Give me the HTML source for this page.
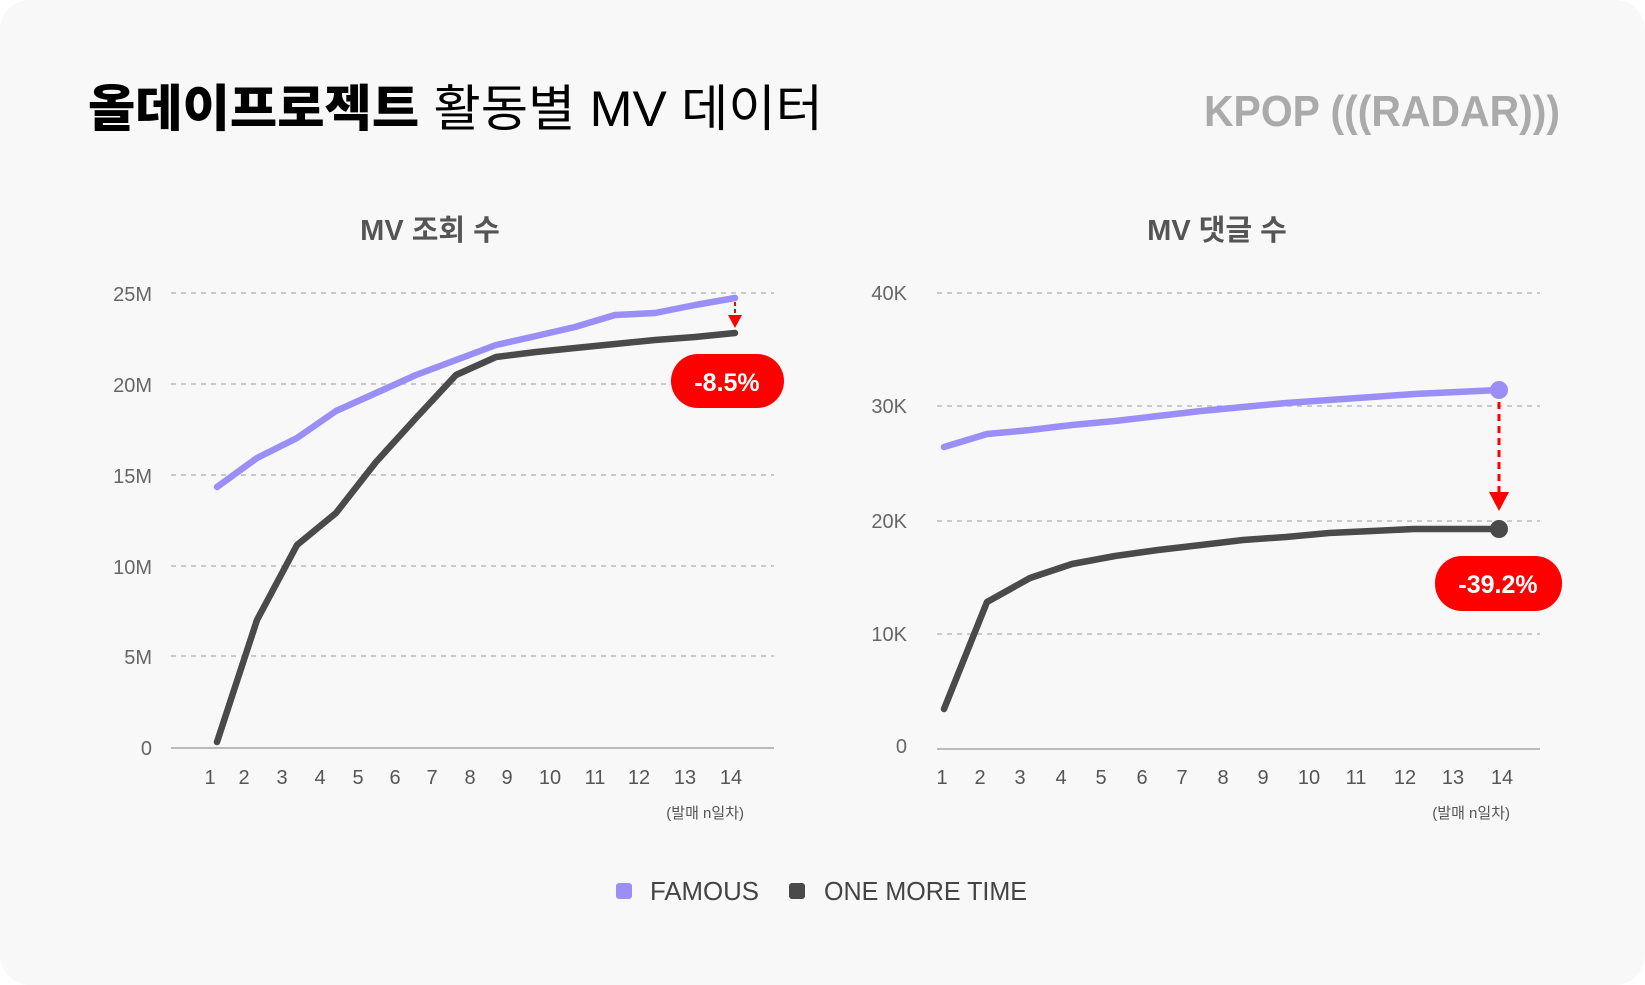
<!DOCTYPE html><html><head><meta charset="utf-8"><style>
body{margin:0;background:#fff;}
svg{display:block;font-family:"Liberation Sans","Noto Sans CJK KR",sans-serif;}
</style></head><body>
<svg width="1645" height="985" viewBox="0 0 1645 985">
<rect x="0" y="0" width="1645" height="985" rx="30" fill="#f8f8f8"/>
<text x="88" y="126" font-size="50" font-weight="bold" fill="#000" textLength="735" lengthAdjust="spacingAndGlyphs"><tspan font-weight="900">올데이프로젝트</tspan><tspan font-weight="normal"> 활동별 MV 데이터</tspan></text>
<text x="1204" y="126" font-size="44" font-weight="bold" fill="#aaa" textLength="356" lengthAdjust="spacingAndGlyphs">KPOP (((RADAR)))</text>
<text x="430" y="240" font-size="29" font-weight="bold" fill="#555" text-anchor="middle">MV 조회 수</text>
<text x="1217" y="240" font-size="29" font-weight="bold" fill="#555" text-anchor="middle">MV 댓글 수</text>
<g stroke="#bbb" stroke-width="1.5" stroke-dasharray="5,5">
<line x1="171" y1="293" x2="774" y2="293"/><line x1="171" y1="384" x2="774" y2="384"/><line x1="171" y1="475" x2="774" y2="475"/><line x1="171" y1="566" x2="774" y2="566"/><line x1="171" y1="656" x2="774" y2="656"/>
<line x1="937" y1="293" x2="1540" y2="293"/><line x1="937" y1="406" x2="1540" y2="406"/><line x1="937" y1="521" x2="1540" y2="521"/><line x1="937" y1="634" x2="1540" y2="634"/>
</g>
<line x1="171" y1="748" x2="774" y2="748" stroke="#bbb" stroke-width="2"/>
<line x1="937" y1="749" x2="1540" y2="749" stroke="#bbb" stroke-width="2"/>
<g font-size="20" fill="#666" text-anchor="end">
<text x="152" y="301">25M</text><text x="152" y="392">20M</text><text x="152" y="483">15M</text><text x="152" y="574">10M</text><text x="152" y="664">5M</text><text x="152" y="755">0</text>
<text x="907" y="300">40K</text><text x="907" y="413">30K</text><text x="907" y="528">20K</text><text x="907" y="641">10K</text><text x="907" y="753">0</text>
</g>
<g font-size="20" fill="#555" text-anchor="middle">
<text x="210" y="784">1</text><text x="244" y="784">2</text><text x="282" y="784">3</text><text x="320" y="784">4</text><text x="358" y="784">5</text><text x="395" y="784">6</text><text x="432" y="784">7</text><text x="470" y="784">8</text><text x="507" y="784">9</text><text x="550" y="784">10</text><text x="595" y="784">11</text><text x="639" y="784">12</text><text x="685" y="784">13</text><text x="731" y="784">14</text>
<text x="942" y="784">1</text><text x="980" y="784">2</text><text x="1020" y="784">3</text><text x="1061" y="784">4</text><text x="1101" y="784">5</text><text x="1142" y="784">6</text><text x="1182" y="784">7</text><text x="1223" y="784">8</text><text x="1263" y="784">9</text><text x="1309" y="784">10</text><text x="1356" y="784">11</text><text x="1405" y="784">12</text><text x="1453" y="784">13</text><text x="1502" y="784">14</text>
</g>
<text x="744" y="818" font-size="15" fill="#555" text-anchor="end">(발매 n일차)</text>
<text x="1510" y="818" font-size="15" fill="#555" text-anchor="end">(발매 n일차)</text>
<g fill="none" stroke-width="6.5" stroke-linejoin="round" stroke-linecap="round">
<polyline stroke="#9b8ff7" points="217,487 257,458 297,438 336,411 376,393 416,375 456,360 496,345 536,336 575,327 615,315 655,313 695,305 735,298"/>
<polyline stroke="#4a4a4a" points="217,742 257,620 297,545 336,513 376,462 416,418 456,375 496,357 536,352 575,348 615,344 655,340 695,337 735,333"/>
<polyline stroke="#9b8ff7" points="944,447 987,434 1030,430 1072,425 1115,421 1158,416 1201,411 1243,407 1286,403 1329,400 1372,397 1414,394 1457,392 1499,390"/>
<polyline stroke="#4a4a4a" points="944,709 987,602 1030,578 1072,564 1115,556 1158,550 1201,545 1243,540 1286,537 1329,533 1372,531 1414,529 1457,529 1499,529"/>
</g>
<circle cx="1499" cy="390" r="9" fill="#9b8ff7"/>
<circle cx="1499" cy="529" r="9" fill="#4a4a4a"/>
<line x1="735" y1="302" x2="735" y2="316" stroke="#f00" stroke-width="2" stroke-dasharray="4,3"/>
<polygon points="728,315 742,315 735,328" fill="#f00"/>
<line x1="1499" y1="402" x2="1499" y2="492" stroke="#f00" stroke-width="3" stroke-dasharray="7,5"/>
<polygon points="1489,492 1509,492 1499,511" fill="#f00"/>
<rect x="671" y="354" width="113" height="54" rx="27" fill="#f00"/>
<text x="727" y="391" font-size="25" font-weight="bold" fill="#fff" text-anchor="middle">-8.5%</text>
<rect x="1435" y="556" width="127" height="55" rx="27" fill="#f00"/>
<text x="1498" y="593" font-size="25" font-weight="bold" fill="#fff" text-anchor="middle">-39.2%</text>
<rect x="616" y="883" width="16" height="16" rx="3" fill="#9b8ff7"/>
<text x="650" y="900" font-size="26" fill="#444" textLength="109" lengthAdjust="spacingAndGlyphs">FAMOUS</text>
<rect x="789" y="883" width="16" height="16" rx="3" fill="#4a4a4a"/>
<text x="824" y="900" font-size="26" fill="#444" textLength="203" lengthAdjust="spacingAndGlyphs">ONE MORE TIME</text>
</svg>
</body></html>
